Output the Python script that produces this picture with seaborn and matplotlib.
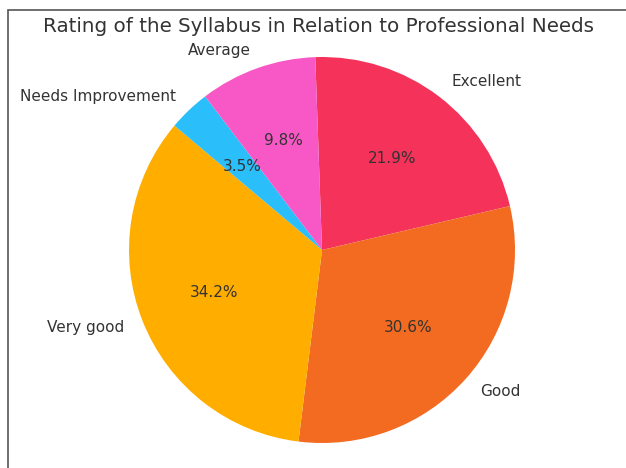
import matplotlib
matplotlib.use('Agg')
import matplotlib.pyplot as plt
import seaborn as sns
from matplotlib.patches import Rectangle

# rating shares (percent)
labels = ['Excellent', 'Good', 'Very good', 'Needs Improvement', 'Average']
shares = [21.9, 30.6, 34.2, 3.5, 9.8]
colors = ['#F53259', '#F26B21', '#FFAE00', '#2ABEFB', '#F858C6']

sns.set_theme(style='white')
plt.rcParams['font.family'] = ['DejaVu Sans']
plt.rcParams['text.color'] = '#333333'

fig = plt.figure(figsize=(6.26, 4.68), dpi=100)
# axes box 386px square centred on (322, 250), pie radius fills it
ax = fig.add_axes([0.2061, 0.0534, 0.6166, 0.8248])

ax.pie(shares, labels=labels, colors=colors, autopct='%1.1f%%',
       startangle=92, counterclock=False,
       textprops={'fontsize': 11, 'color': '#333333'},
       wedgeprops={'linewidth': 0})
ax.set_xlim(-1, 1)
ax.set_ylim(-1, 1)
ax.set_aspect('equal')

fig.text(0.508, 0.944, 'Rating of the Syllabus in Relation to Professional Needs',
         ha='center', va='center', fontsize=14.3, color='#333333')

# frame edge of the screenshot (top and left only)
fig.add_artist(Rectangle((8 / 626, -0.1), 1.2, 1.1 - 10 / 468,
                         transform=fig.transFigure, fill=False,
                         edgecolor='#555555', linewidth=1.2))

fig.savefig('out.png', dpi=100)
